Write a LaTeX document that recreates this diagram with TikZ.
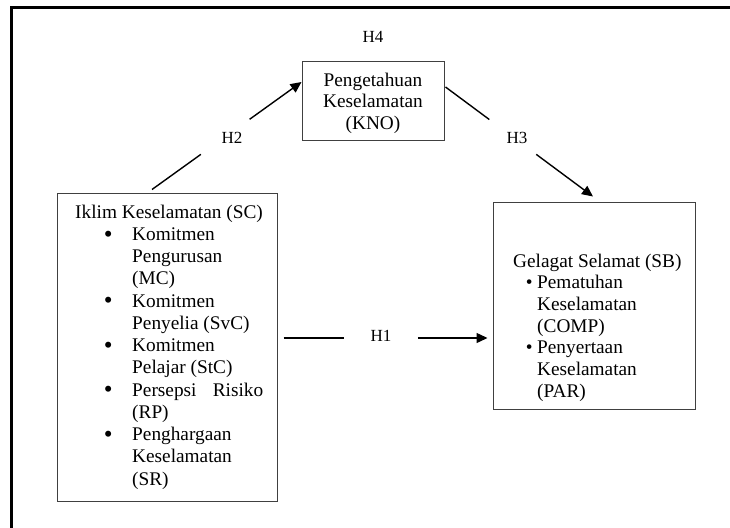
\documentclass[tikz,border=0pt]{standalone}
\usepackage{fontspec}
\setmainfont{Liberation Serif}
\usetikzlibrary{arrows.meta,calc}
\newcommand{\mybul}[2]{\hspace*{#1}\makebox[#2][l]{\raisebox{-1.8pt}{\scalebox{1.3}{\textbullet}}}}
\newcommand{\smbul}[2]{\hspace*{#1}\makebox[#2][l]{\textbullet}}
\tikzset{
  boxnode/.style={draw=black!75, line width=1pt, inner sep=0pt, rectangle},
  conn/.style={line width=1.4pt, black},
  arr/.style={conn, -{Triangle[length=11pt,width=10pt]}},
  lbl/.style={font=\fontsize{17}{20}\selectfont, inner sep=0pt, anchor=base},
  txt/.style={inner sep=0pt, anchor=base west},
  ctxt/.style={inner sep=0pt, anchor=base}
}
\begin{document}
\begin{tikzpicture}[x=1pt,y=-1pt]
\path[use as bounding box] (0,0) rectangle (730,527);
% outer frame (left and top sides)
\draw[line width=3pt] (11,528) -- (11,8) -- (731,8);

% boxes
\node[boxnode, minimum width=220pt, minimum height=308pt] (sc) at (167,347) {};
\node[boxnode, minimum width=202pt, minimum height=207pt] (sb) at (594,305.5) {};
\node[boxnode, minimum width=142pt, minimum height=79pt] (kno) at (373,100.5) {};

% box texts
\node[txt] (sctext) at (75,218) {\parbox[t]{200pt}{\fontsize{19.3}{22.25}\selectfont
Iklim Keselamatan (SC)\\
\mybul{28.7pt}{28.3pt}Komitmen\\
\hspace*{57pt}Pengurusan\\
\hspace*{57pt}(MC)\\
\mybul{28.7pt}{28.3pt}Komitmen\\
\hspace*{57pt}Penyelia (SvC)\\
\mybul{28.7pt}{28.3pt}Komitmen\\
\hspace*{57pt}Pelajar (StC)\\
\mybul{28.7pt}{28.3pt}\hbox to 131pt{Persepsi\hfil Risiko}\\
\hspace*{57pt}(RP)\\
\mybul{28.7pt}{28.3pt}Penghargaan\\
\hspace*{57pt}Keselamatan\\
\hspace*{57pt}(SR)}};

\node[txt] (sbtext) at (513,267) {\parbox[t]{180pt}{\fontsize{19.3}{21.7}\selectfont
Gelagat Selamat (SB)\\
\smbul{12.7pt}{11.3pt}Pematuhan\\
\hspace*{24pt}Keselamatan\\
\hspace*{24pt}(COMP)\\
\smbul{12.7pt}{11.3pt}Penyertaan\\
\hspace*{24pt}Keselamatan\\
\hspace*{24pt}(PAR)}};

\node[ctxt] (knotext) at (373,86) {\parbox[t]{140pt}{\centering\fontsize{19.3}{21.5}\selectfont
Pengetahuan\\ Keselamatan\\ (KNO)}};

% labels
\node[lbl] (h4) at (373,42) {H4};
\node[lbl] (h2) at (232,143) {H2};
\node[lbl] (h3) at (517,143) {H3};
\node[lbl] (h1) at (381,341) {H1};

% connector end points
\coordinate (h2s) at ([shift={(-15,-3)}]sc.north);
\coordinate (h2e) at ([shift={(0,-18.5)}]kno.west);
\coordinate (h3s) at ([shift={(1,-13.5)}]kno.east);
\coordinate (h3e) at ([shift={(-1,-5)}]sb.north);
\coordinate (h1s) at ([shift={(6,-9)}]sc.east);
\coordinate (h1e) at ([shift={(-5,32.5)}]sb.west);

% connectors with gaps for the labels
\draw[conn] (h2s) -- ($(h2s)!0.327!(h2e)$);
\draw[arr] ($(h2s)!0.653!(h2e)$) -- (h2e);
\draw[conn] (h3s) -- ($(h3s)!0.297!(h3e)$);
\draw[arr] ($(h3s)!0.615!(h3e)$) -- (h3e);
\draw[conn] (h1s) -- ($(h1s)!0.298!(h1e)$);
\draw[arr] ($(h1s)!0.659!(h1e)$) -- (h1e);
\end{tikzpicture}
\end{document}
